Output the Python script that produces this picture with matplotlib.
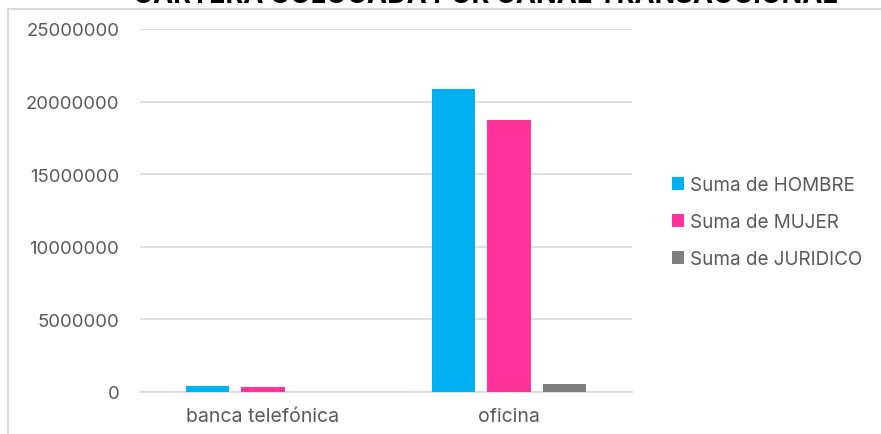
import numpy as np
import matplotlib.pyplot as plt
import matplotlib.patches as patch

canales = ["banca telefónica", "oficina"]
series = ["Suma de HOMBRE", "Suma de MUJER", "Suma de JURIDICO"]
hombre = [410000, 20850000]
mujer = [340000, 18750000]
juridico = [0, 550000]
valores = [hombre, mujer, juridico]
colores = ["#00b0f0", "#ff3399", "#7f7f7f"]
yticks = [0, 5000000, 10000000, 15000000, 20000000, 25000000]
titulo = "CARTERA COLOCADA POR CANAL TRANSACCIONAL"

gris = "#595959"
plt.rcParams["font.family"] = ["Inter", "DejaVu Sans"]

fig = plt.figure(figsize=(8.81, 4.35), dpi=100)
ax = fig.add_axes([140 / 881, 42 / 435, 492 / 881, 363 / 435])

x = np.arange(len(canales))
ancho = 0.175
paso = 0.224
for i, (serie, vals, col) in enumerate(zip(series, valores, colores)):
    ax.bar(x + (i - 1) * paso, vals, width=ancho, color=col, label=serie, zorder=3)

ax.set_xlim(-0.5, 1.5)
ax.set_ylim(0, 25000000)
ax.set_yticks(yticks)
ax.set_yticklabels([str(v) for v in yticks])
ax.set_xticks(x)
ax.set_xticklabels(canales)
ax.grid(axis="y", color="#d9d9d9", lw=1.2, zorder=0)
for s in ["top", "right", "left"]:
    ax.spines[s].set_visible(False)
ax.spines["bottom"].set_color("#d9d9d9")
ax.spines["bottom"].set_linewidth(1.2)
ax.tick_params(axis="both", length=0, colors=gris)
ax.tick_params(axis="y", pad=15, labelsize=13.3)
ax.tick_params(axis="x", pad=11, labelsize=14)

# marco del gráfico
fig.patches.append(
    patch.Rectangle(
        (8 / 881, -0.1), 1.2, (435 - 10) / 435 + 0.1,
        transform=fig.transFigure, fill=False, edgecolor="#d9d9d9", lw=1.5,
        clip_on=False,
    )
)

fig.text(485 / 881, (435 + 4) / 435, titulo, ha="center", va="center",
         size=19.5, weight="bold", color="black")

fig.legend(loc="center left", bbox_to_anchor=(655 / 881, 212 / 435),
           frameon=False, fontsize=13.6, labelcolor=gris, handlelength=0.65,
           handleheight=0.65, handletextpad=0.3, labelspacing=1.0)

fig.savefig("out.png", dpi=100)
